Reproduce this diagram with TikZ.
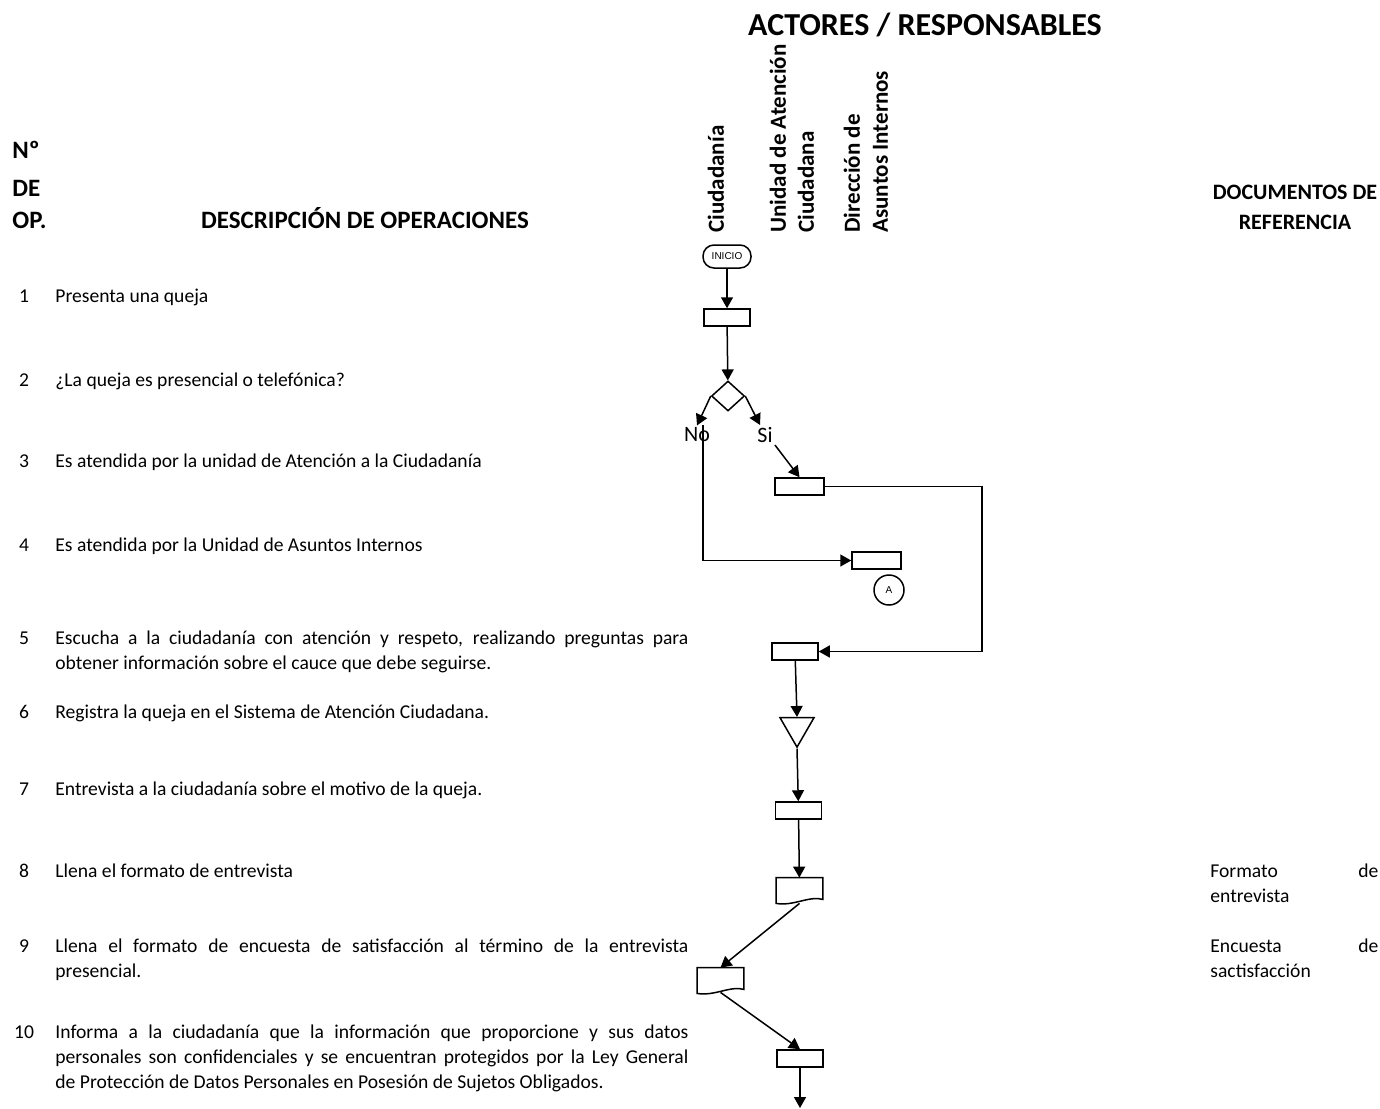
\documentclass[tikz,border=0pt]{standalone}
\usepackage{fontspec}
\setmainfont{Carlito}
\newfontfamily\arialfont{Liberation Sans}
\usetikzlibrary{shapes.geometric, arrows.meta, calc}

\begin{document}
\begin{tikzpicture}[
    x=0.5pt, y=-0.5pt,
    proc/.style={rectangle, draw=black, line width=0.75pt,
                 minimum width=23pt, minimum height=8.5pt, inner sep=0pt},
    docshape/.style={rectangle, minimum width=23pt, minimum height=12.5pt, inner sep=0pt},
    decision/.style={diamond, draw=black, line width=0.75pt,
                     minimum width=16.5pt, minimum height=15pt, inner sep=0pt},
    archive/.style={regular polygon, regular polygon sides=3, shape border rotate=180,
                    draw=black, line width=0.75pt, minimum size=19.6pt, inner sep=0pt},
    terminal/.style={rectangle, rounded corners=5.5pt, draw=black, line width=0.75pt,
                     minimum width=24pt, minimum height=11.5pt, inner sep=0pt,
                     font=\arialfont\fontsize{5}{6}\selectfont},
    connector/.style={circle, draw=black, line width=0.75pt, minimum size=15pt,
                      inner sep=0pt, font=\arialfont\fontsize{5}{6}\selectfont},
    arrow/.style={-{Triangle[length=5.5pt,width=6pt]}, line width=0.75pt},
    link/.style={line width=0.75pt},
    head/.style={inner sep=0pt, font=\bfseries\fontsize{12.5}{15}\selectfont},
    actor/.style={rotate=90, anchor=west, align=left, inner sep=0pt,
                  font=\bfseries\fontsize{11.5}{14}\selectfont},
    opnum/.style={anchor=base, inner sep=0pt, font=\fontsize{9.8}{12.5}\selectfont},
    desc/.style={anchor=base west, text width=316.5pt, align=justify, inner sep=0pt,
                 font=\fontsize{9.8}{12.5}\selectfont},
    refdoc/.style={anchor=base west, text width=84pt, align=justify, inner sep=0pt,
                   font=\fontsize{9.8}{12.5}\selectfont},
    answer/.style={inner sep=1pt, font=\fontsize{11}{13}\selectfont}
]
\useasboundingbox (0,0) rectangle (1380,1108);

% headings
\node[head, font=\bfseries\fontsize{16}{18}\selectfont, anchor=base] (actores) at (925,35) {ACTORES / RESPONSABLES};
\node[head, anchor=base west] (hnum1) at (12,158) {Nº};
\node[head, anchor=base west] (hnum2) at (12,196) {DE};
\node[head, anchor=base west] (hnum3) at (12,228) {OP.};
\node[head, anchor=base] (hdesc) at (365,228) {DESCRIPCIÓN DE OPERACIONES};
\node[head, anchor=base, align=center, font=\bfseries\fontsize{11}{15}\selectfont] (hdocs) at (1295,229) {DOCUMENTOS DE\\REFERENCIA};

\node[actor] (ciud) at (716,233) {Ciudadanía};
\node[actor] (uac) at (792,233) {Unidad de Atención\\Ciudadana};
\node[actor] (dai) at (866,233) {Dirección de\\Asuntos Internos};

% operations
\node[opnum] (n1) at (24,302) {1};
\node[desc] (d1) at (55,302) {Presenta una queja};
\node[opnum] (n2) at (24,386) {2};
\node[desc] (d2) at (55,386) {¿La queja es presencial o telefónica?};
\node[opnum] (n3) at (24,467) {3};
\node[desc] (d3) at (55,467) {Es atendida por la unidad de Atención a la Ciudadanía};
\node[opnum] (n4) at (24,551) {4};
\node[desc] (d4) at (55,551) {Es atendida por la Unidad de Asuntos Internos};
\node[opnum] (n5) at (24,644) {5};
\node[desc] (d5) at (55,644) {Escucha a la ciudadanía con atención y respeto, realizando preguntas para\linebreak obtener información sobre el cauce que debe seguirse.};
\node[opnum] (n6) at (24,718) {6};
\node[desc] (d6) at (55,718) {Registra la queja en el Sistema de Atención Ciudadana.};
\node[opnum] (n7) at (24,795) {7};
\node[desc] (d7) at (55,795) {Entrevista a la ciudadanía sobre el motivo de la queja.};
\node[opnum] (n8) at (24,877) {8};
\node[desc] (d8) at (55,877) {Llena el formato de entrevista};
\node[opnum] (n9) at (24,952) {9};
\node[desc] (d9) at (55,952) {Llena el formato de encuesta de satisfacción al término de la entrevista\linebreak presencial.};
\node[opnum] (n10) at (24,1038) {10};
\node[desc] (d10) at (55,1038) {Informa a la ciudadanía que la información que proporcione y sus datos\linebreak personales son confidenciales y se encuentran protegidos por la Ley General\linebreak de Protección de Datos Personales en Posesión de Sujetos Obligados.};

% reference documents
\node[refdoc] (ref8) at (1210,877) {Formato de\linebreak entrevista};
\node[refdoc] (ref9) at (1210,952) {Encuesta de\linebreak sactisfacción};

% flow
\node[terminal] (inicio) at (727,256.5) {INICIO};
\node[proc] (r1) at (727,317.5) {};
\node[decision] (dec) at (728,396) {};
\node[answer] (lblno) at (697,435) {No};
\node[answer] (lblsi) at (765,435) {Si};
\node[proc, minimum width=24.5pt] (r2) at (799.5,486.5) {};
\node[proc, minimum width=24.5pt] (r3) at (876.5,560.5) {};
\node[connector] (ca) at (889,590) {A};
\node[proc] (r4) at (795,651.5) {};
\node[archive] (tri) at (797,727.5) {};
\node[proc] (r5) at (798.5,810.5) {};
\node[docshape] (doc1) at (799.5,890.5) {};
\node[docshape] (doc2) at (720.5,980.5) {};
\node[proc] (r6) at (800,1058.5) {};
\coordinate (fin) at (800,1108);

\draw[link] (doc1.north west) -- (doc1.north east) -- ($(doc1.south east)+(0,-4)$)
    .. controls ($(doc1.south)+(10,-8)$) and ($(doc1.south)+(-6,3)$) .. (doc1.south west) -- cycle;
\draw[link] (doc2.north west) -- (doc2.north east) -- ($(doc2.south east)+(0,-4)$)
    .. controls ($(doc2.south)+(10,-8)$) and ($(doc2.south)+(-6,3)$) .. (doc2.south west) -- cycle;

\draw[arrow] (inicio) -- (r1);
\draw[arrow] (r1) -- (dec);
\draw[arrow] (dec.west) -- (lblno.north);
\draw[arrow] (dec.east) -- ($(lblsi.north)+(-5,0)$);
\draw[arrow] (lblsi.south east) -- (r2.north);
\draw[arrow] ($(lblno.north)+(6,0)$) |- (r3.west);
\draw[arrow] (r2.east) -- (982,486.5) |- (r4.east);
\draw[arrow] (r4) -- (tri.90);
\draw[arrow] (tri.270) -- (r5);
\draw[arrow] (r5) -- (doc1);
\draw[arrow] (doc1.south) -- (doc2.north);
\draw[arrow] ($(doc2.south)+(0,-1)$) -- (r6.north);
\draw[arrow] (r6) -- (fin);

\end{tikzpicture}
\end{document}
